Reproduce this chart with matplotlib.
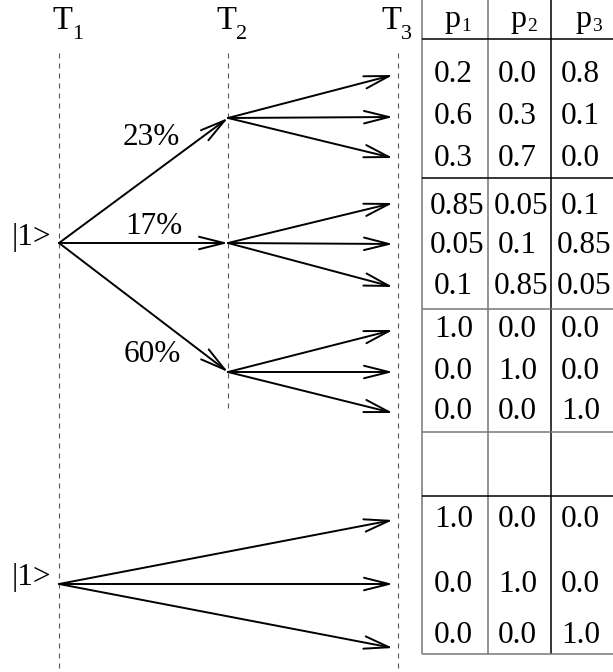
import matplotlib
matplotlib.use("Agg")
import matplotlib.pyplot as plt

# ---------------- data ----------------
time_labels = ["1", "2", "3"]
start_label = "|1>"
branch_pct = ["23%", "17%", "60%"]
col_subs = ["1", "2", "3"]
table_values = [
    ["0.2", "0.0", "0.8"],
    ["0.6", "0.3", "0.1"],
    ["0.3", "0.7", "0.0"],
    ["0.85", "0.05", "0.1"],
    ["0.05", "0.1", "0.85"],
    ["0.1", "0.85", "0.05"],
    ["1.0", "0.0", "0.0"],
    ["0.0", "1.0", "0.0"],
    ["0.0", "0.0", "1.0"],
    ["1.0", "0.0", "0.0"],
    ["0.0", "1.0", "0.0"],
    ["0.0", "0.0", "1.0"],
]

# ---------------- layout (pixels) ----------------
W, H = 613, 672
FONT = "Liberation Serif"
FS = 22.5
tx = [59, 228, 398]            # time columns
t_label_x = [52, 216, 381]
t_sub_x = [72, 236, 401]
root_top = 243
mid_nodes = [118, 243, 372]
tip_x = 393
leaf_off = [[-43, -1, 40], [-40, 1, 44], [-42, 0, 41]]
root_bot = 584
bot_tips = [520, 584, 648]
pct_pos = [(123, 145), (125, 234), (124, 362)]

col_x = [422, 488, 551]
col_text_x = [434, 498, 561]
hlines = [(39, "black"), (178, "black"), (309, "#777777"), (432, "#777777"),
          (496, "black"), (654, "#777777")]
vcolors = ["#777777", "#777777", "black"]
row_base = [82, 124, 166, 214, 253, 294, 337, 379, 419, 527, 592, 643]
p_x = [444, 510, 575]

fig = plt.figure(figsize=(W / 100, H / 100), dpi=100)
ax = fig.add_axes([0, 0, 1, 1])
ax.set_xlim(0, W)
ax.set_ylim(H, 0)
ax.axis("off")

# dashed time lines
dash = dict(color="#555555", lw=0.8, linestyle=(0, (4.5, 4.5)))
ax.plot([tx[0], tx[0]], [53, H], **dash)
ax.plot([tx[1], tx[1]], [53, 413], **dash)
ax.plot([tx[2], tx[2]], [53, H], **dash)

# time labels
for lx, sx, s in zip(t_label_x, t_sub_x, time_labels):
    ax.text(lx, 29, "T", family=FONT, fontsize=23.5, ha="left", va="baseline")
    ax.text(sx, 39, s, family=FONT, fontsize=16, ha="left", va="baseline")

arrow = dict(arrowstyle="->,head_length=1.8,head_width=0.45", lw=1.4,
             color="black", shrinkA=0, shrinkB=0, mutation_scale=10)

def arr(x0, y0, x1, y1):
    ax.annotate("", xy=(x1, y1), xytext=(x0, y0), arrowprops=arrow)

# first stage
for y in mid_nodes:
    arr(tx[0], root_top, tx[1], y)
# second stage
for y, offs in zip(mid_nodes, leaf_off):
    for o in offs:
        arr(tx[1], y, tip_x, y + o)
# bottom tree
for y in bot_tips:
    arr(tx[0], root_bot, tip_x, y)

# labels
ax.text(12, 245, start_label, family=FONT, fontsize=FS, ha="left", va="baseline")
ax.text(12, 585, start_label, family=FONT, fontsize=FS, ha="left", va="baseline")
for (px, py), s in zip(pct_pos, branch_pct):
    ax.text(px, py, s, family=FONT, fontsize=FS, ha="left", va="baseline")

# table lines
for x, c in zip(col_x, vcolors):
    ax.plot([x, x], [0, 654], color=c, lw=1.1, solid_capstyle="butt")
for y, c in hlines:
    ax.plot([col_x[0], W], [y, y], color=c, lw=1.1, solid_capstyle="butt")

# header
for x, s in zip(p_x, col_subs):
    ax.text(x, 27, "p", family=FONT, fontsize=23, ha="left", va="baseline")
    ax.text(x + 17, 31, s, family=FONT, fontsize=14, ha="left", va="baseline")

# values
for yb, row in zip(row_base, table_values):
    for x, v in zip(col_text_x, row):
        xx = x - 4 if len(v) > 3 else x
        ax.text(xx, yb, v, family=FONT, fontsize=FS, ha="left", va="baseline")

fig.savefig("out.png", dpi=100)
